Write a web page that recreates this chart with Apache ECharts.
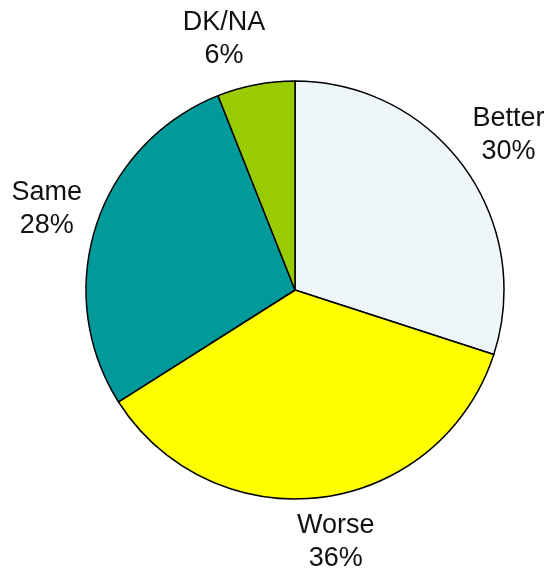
<!DOCTYPE html>
<html>
<head>
<meta charset="utf-8">
<script src="https://cdn.jsdelivr.net/npm/echarts@6/dist/echarts.min.js"></script>
<style>
  html, body { margin: 0; padding: 0; background: #fff; }
  #chart { width: 550px; height: 576px; }
</style>
</head>
<body>
<div id="chart"></div>
<script>
// slices, clockwise from 12 o'clock
var categories = ['Better', 'Worse', 'Same', 'DK/NA'];
var percents = [30, 36, 28, 6];
var colors = ['#EEF6F9', '#FFFF00', '#009A9A', '#99CC00'];

var cx = 295, cy = 290, radius = 209;
// label distance from centre and small hand nudges (degrees) to match the original
var labelDist = [264, 255, 261, 261];
var angleNudge = [0, -2, 0, -5];

var total = 0;
for (var i = 0; i < percents.length; i++) total += percents[i];

// mid-angle of each slice, measured clockwise from top
function midAngle(idx) {
  var before = 0;
  for (var k = 0; k < idx; k++) before += percents[k];
  return (before + percents[idx] / 2) / total * 360 + angleNudge[idx];
}

var pieData = [];
for (var j = 0; j < categories.length; j++) {
  pieData.push({
    name: categories[j],
    value: percents[j],
    itemStyle: { color: colors[j] }
  });
}

var myChart = echarts.init(document.getElementById('chart'));
var option = {
  animation: false,
  series: [{
    type: 'pie',
    center: [cx, cy],
    radius: radius,
    startAngle: 90,
    clockwise: true,
    data: pieData,
    itemStyle: { borderColor: '#000', borderWidth: 1.5 },
    label: {
      show: true,
      position: 'outside',
      alignTo: 'none',
      overflow: 'none',
      formatter: '{b}\n{c}%',
      fontFamily: 'Liberation Sans, Arial, sans-serif',
      fontSize: 27,
      lineHeight: 33,
      color: '#111'
    },
    labelLine: { show: false },
    labelLayout: function (params) {
      var idx = params.dataIndex;
      var a = midAngle(idx) * Math.PI / 180;
      return {
        x: cx + labelDist[idx] * Math.sin(a),
        y: cy - labelDist[idx] * Math.cos(a),
        align: 'center',
        verticalAlign: 'middle'
      };
    },
    emphasis: { disabled: true }
  }]
};
myChart.setOption(option);
</script>
</body>
</html>
